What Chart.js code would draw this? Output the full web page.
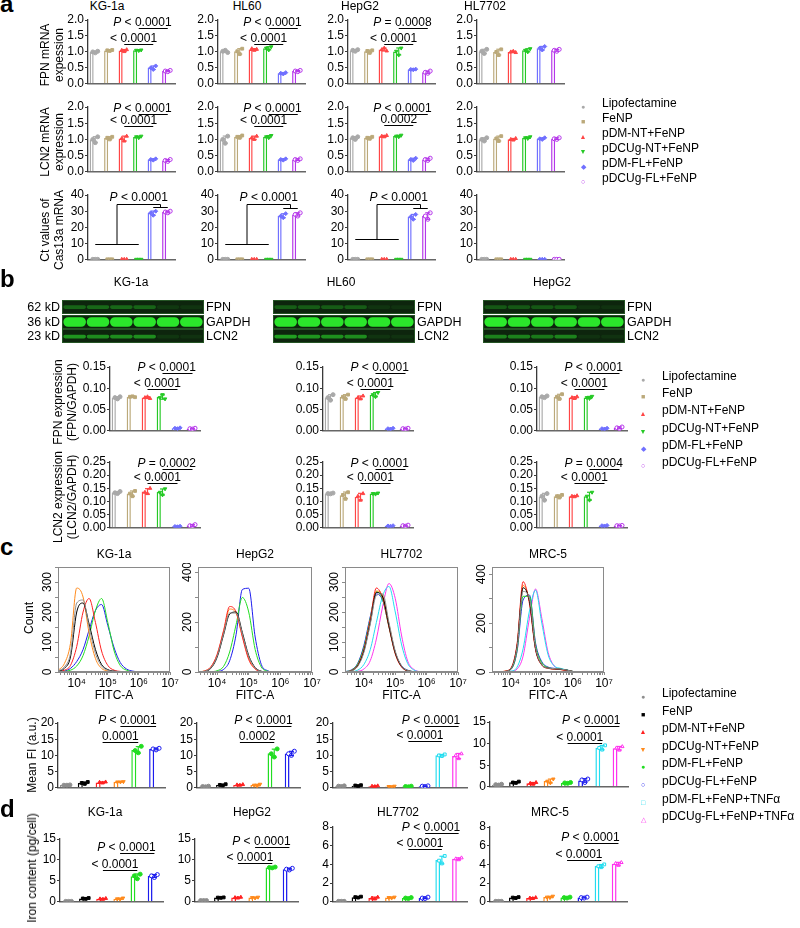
<!DOCTYPE html>
<html>
<head>
<meta charset="utf-8">
<script src="https://cdn.jsdelivr.net/npm/chart.js@4.4.1/dist/chart.umd.min.js"></script>
<style>
  body { margin: 0; background: #fff; }
  #fig { position: relative; width: 800px; height: 928px; overflow: hidden; font-family: "Liberation Sans", Arial, sans-serif; color: #000; }
  #fig canvas { position: absolute; }
  .t { position: absolute; white-space: nowrap; font-size: 12px; line-height: 1; }
  .letter { font-size: 24px; font-weight: bold; }
  .rot { text-align: center; line-height: 1.2; }
  .sym { display: inline-block; width: 10px; text-align: center; font-size: 7px; }
</style>
</head>
<body>
<div id="fig"></div>
<script>
// ---------- groups ----------
const GROUPS_AB = ["Lipofectamine", "FeNP", "pDM-NT+FeNP", "pDCUg-NT+FeNP", "pDM-FL+FeNP", "pDCUg-FL+FeNP"];
const COLORS_AB = ["#a9a9a9", "#bba97a", "#ff4545", "#25c925", "#7070ff", "#b536ea"];
const GROUPS_CD = ["Lipofectamine", "FeNP", "pDM-NT+FeNP", "pDCUg-NT+FeNP", "pDM-FL+FeNP", "pDCUg-FL+FeNP", "pDM-FL+FeNP+TNF\u03b1", "pDCUg-FL+FeNP+TNF\u03b1"];
const COLORS_CD = ["#8e8e8e", "#000000", "#ff2020", "#ff8a1c", "#22dd22", "#1c1cee", "#22dcef", "#ff33ee"];

// ---------- panel a: mRNA ----------
const A_CELLS = ["KG-1a", "HL60", "HepG2", "HL7702"];
const A_FPN = [
  [[1.00, 0.97, 1.02], [1.05, 1.03, 1.06], [1.05, 1.01, 1.07], [1.05, 1.04, 1.06], [0.50, 0.45, 0.56], [0.40, 0.38, 0.42]],
  [[1.02, 1.05, 0.98], [1.02, 0.93, 1.10], [1.10, 1.05, 1.08], [1.12, 1.06, 1.16], [0.33, 0.31, 0.35], [0.40, 0.38, 0.42]],
  [[1.05, 1.02, 1.07], [1.03, 0.97, 1.05], [1.07, 1.12, 1.03], [1.02, 0.90, 1.12], [0.45, 0.44, 0.46], [0.36, 0.33, 0.40]],
  [[1.02, 0.95, 1.08], [1.00, 0.90, 1.08], [1.00, 1.02, 0.98], [1.05, 1.00, 1.10], [1.12, 1.06, 1.17], [1.05, 1.02, 1.08]],
];
const A_LCN2 = [
  [[1.00, 0.90, 1.08], [1.05, 1.00, 1.08], [1.03, 0.95, 1.10], [1.08, 1.05, 1.10], [0.38, 0.36, 0.40], [0.35, 0.32, 0.38]],
  [[1.00, 0.88, 1.10], [1.08, 1.05, 1.12], [1.05, 1.00, 1.10], [1.08, 1.05, 1.12], [0.38, 0.36, 0.40], [0.38, 0.35, 0.40]],
  [[1.05, 1.00, 1.08], [1.05, 1.02, 1.08], [1.10, 1.08, 1.12], [1.10, 1.08, 1.13], [0.38, 0.35, 0.42], [0.38, 0.35, 0.42]],
  [[1.00, 0.95, 1.05], [1.03, 0.95, 1.10], [1.00, 0.98, 1.03], [1.05, 1.03, 1.08], [1.02, 1.00, 1.05], [1.02, 1.00, 1.05]],
];
const A_CT = [
  [[0.3, 0.3, 0.3], [0.3, 0.3, 0.3], [0.3, 0.3, 0.3], [0.3, 0.3, 0.3], [29.0, 27.5, 30.0], [29.5, 29.0, 30.0]],
  [[0.3, 0.3, 0.3], [0.3, 0.3, 0.3], [0.3, 0.3, 0.3], [0.3, 0.3, 0.3], [27.0, 26.0, 28.5], [28.0, 27.0, 29.0]],
  [[0.3, 0.3, 0.3], [0.3, 0.3, 0.3], [0.3, 0.3, 0.3], [0.3, 0.3, 0.3], [26.5, 25.0, 28.0], [27.0, 25.0, 29.0]],
  [[0.3, 0.3, 0.3], [0.3, 0.3, 0.3], [0.3, 0.3, 0.3], [0.3, 0.3, 0.3], [0.3, 0.3, 0.3], [0.3, 0.3, 0.3]],
];
// significance lines: [from bar, to bar, value, prefix, p value]
const A_FPN_NOTES = [
  [[3, 5, 1.74, "P <", "0.0001"], [2, 4, 1.25, "<", "0.0001"]],
  [[3, 5, 1.74, "P <", "0.0001"], [2, 4, 1.25, "<", "0.0001"]],
  [[3, 5, 1.74, "P =", "0.0008"], [2, 4, 1.25, "<", "0.0001"]],
  [],
];
const A_LCN2_NOTES = [
  [[3, 5, 1.78, "P <", "0.0001"], [2, 4, 1.40, "<", "0.0001"]],
  [[3, 5, 1.78, "P <", "0.0001"], [2, 4, 1.40, "<", "0.0001"]],
  [[3, 5, 1.78, "P <", "0.0001"], [2, 4, 1.45, "", "0.0002"]],
  [],
];
const A_CT_BRACKETS = [
  { group: [0, 3], gy: 10, stem: 1.5, top: 34.3, drop: 4.5, pair: [4, 5], py: 32.6, at: 3, num: "0.0001" },
  { group: [0, 3], gy: 10, stem: 1.5, top: 34.3, drop: 4.5, pair: [4, 5], py: 32.0, at: 3, num: "0.0001" },
  { group: [0, 3], gy: 13, stem: 1.5, top: 34.3, drop: 4.5, pair: [4, 5], py: 32.0, at: 3, num: "0.0001" },
  null,
];

// ---------- panel b: western blot ----------
const B_CELLS = ["KG-1a", "HL60", "HepG2"];
const BLOT_PROTEINS = ["FPN", "GAPDH", "LCN2"];
const BLOT_KD = ["62 kD", "36 kD", "23 kD"];
const BLOT_BANDS = [[0.34, 0.64], [0.1, 0.9], [0.3, 0.6]];
const BLOT_FPN = [[0.30, 0.32, 0.32, 0.30, 0.08, 0.06], [0.27, 0.26, 0.26, 0.26, 0.06, 0.05], [0.24, 0.24, 0.24, 0.24, 0.05, 0.05]];
const BLOT_GAPDH = [[0.95, 0.95, 0.95, 0.95, 0.95, 0.95], [0.95, 0.95, 0.93, 0.95, 0.95, 0.95], [0.97, 0.95, 0.95, 0.95, 0.95, 0.95]];
const BLOT_LCN2 = [[0.55, 0.50, 0.50, 0.50, 0.07, 0.05], [0.60, 0.55, 0.52, 0.50, 0.06, 0.05], [0.45, 0.45, 0.40, 0.45, 0.05, 0.05]];
const B_FPN = [
  [[0.078, 0.075, 0.080], [0.080, 0.081, 0.079], [0.078, 0.080, 0.076], [0.078, 0.085, 0.075], [0.006, 0.005, 0.007], [0.005, 0.004, 0.006]],
  [[0.078, 0.072, 0.085], [0.080, 0.075, 0.085], [0.078, 0.075, 0.082], [0.085, 0.080, 0.090], [0.005, 0.004, 0.006], [0.005, 0.004, 0.006]],
  [[0.080, 0.078, 0.082], [0.080, 0.075, 0.086], [0.078, 0.076, 0.080], [0.078, 0.076, 0.081], [0.005, 0.004, 0.006], [0.007, 0.005, 0.009]],
];
const B_LCN2 = [
  [[0.133, 0.130, 0.138], [0.130, 0.120, 0.140], [0.135, 0.130, 0.150], [0.135, 0.125, 0.148], [0.005, 0.004, 0.006], [0.008, 0.006, 0.012]],
  [[0.130, 0.129, 0.132], [0.125, 0.110, 0.135], [0.120, 0.105, 0.130], [0.130, 0.128, 0.132], [0.007, 0.006, 0.008], [0.008, 0.006, 0.010]],
  [[0.120, 0.105, 0.130], [0.120, 0.115, 0.125], [0.120, 0.118, 0.122], [0.120, 0.105, 0.135], [0.008, 0.007, 0.009], [0.008, 0.007, 0.009]],
];
const B_FPN_NOTES = [
  [[3, 5, 0.135, "P <", "0.0001"], [2, 4, 0.098, "<", "0.0001"]],
  [[3, 5, 0.135, "P <", "0.0001"], [2, 4, 0.098, "<", "0.0001"]],
  [[3, 5, 0.135, "P <", "0.0001"], [2, 4, 0.098, "<", "0.0001"]],
];
const B_LCN2_NOTES = [
  [[3, 5, 0.225, "P =", "0.0002"], [2, 4, 0.169, "<", "0.0001"]],
  [[3, 5, 0.225, "P <", "0.0001"], [2, 4, 0.169, "<", "0.0001"]],
  [[3, 5, 0.225, "P =", "0.0004"], [2, 4, 0.169, "<", "0.0001"]],
];

// ---------- panel c: flow cytometry ----------
const C_CELLS = ["KG-1a", "HepG2", "HL7702", "MRC-5"];
const HIST_X = [2500, 4000, 6300, 10000, 16000, 25000, 40000, 63000, 100000, 160000, 250000, 400000, 630000, 1000000];
const HIST_DECADES = [10000, 100000, 1000000, 10000000];
const HIST_DECADE_LABELS = ["10\u2074", "10\u2075", "10\u2076", "10\u2077"];
const HIST_YTICKS = [[0, 100, 200, 300], [0, 200, 400], [0, 100, 200, 300], [0, 200, 400]];
const C_HIST = [
  [
    [3, 17, 62, 230, 240, 150, 62, 20, 6, 2, 1, 0, 0, 0],
    [2, 12, 50, 200, 230, 160, 75, 25, 8, 3, 1, 0, 0, 0],
    [1, 6, 22, 85, 200, 245, 165, 70, 22, 6, 2, 0, 0, 0],
    [5, 28, 95, 280, 250, 130, 45, 12, 4, 1, 0, 0, 0, 0],
    [0, 2, 6, 20, 55, 120, 205, 245, 165, 70, 22, 6, 1, 0],
    [0, 3, 12, 35, 75, 140, 205, 225, 155, 80, 32, 10, 3, 0],
  ],
  [
    [0, 3, 16, 62, 152, 236, 236, 152, 62, 16, 3, 0, 0, 0],
    [0, 2, 14, 58, 148, 232, 240, 158, 66, 18, 3, 0, 0, 0],
    [0, 4, 20, 70, 165, 262, 240, 140, 50, 12, 2, 0, 0, 0],
    [0, 4, 18, 66, 160, 252, 235, 145, 55, 14, 2, 0, 0, 0],
    [0, 0, 1, 5, 22, 80, 190, 298, 240, 90, 20, 3, 0, 0],
    [0, 0, 0, 2, 10, 45, 150, 330, 335, 140, 30, 5, 0, 0],
  ],
  [
    [0, 4, 18, 65, 160, 255, 260, 165, 70, 20, 5, 1, 0, 0],
    [0, 4, 20, 70, 165, 265, 250, 155, 65, 18, 4, 1, 0, 0],
    [0, 5, 22, 75, 175, 280, 245, 150, 60, 16, 4, 1, 0, 0],
    [0, 4, 20, 72, 170, 270, 255, 160, 66, 18, 4, 1, 0, 0],
    [1, 6, 26, 82, 180, 268, 240, 150, 62, 18, 5, 1, 0, 0],
    [1, 7, 28, 88, 185, 260, 238, 152, 65, 20, 6, 1, 0, 0],
    [0, 1, 6, 25, 75, 165, 255, 285, 200, 90, 28, 6, 1, 0],
    [0, 0, 2, 10, 38, 110, 220, 295, 245, 120, 36, 8, 1, 0],
  ],
  [
    [0, 0, 2, 12, 100, 330, 300, 100, 30, 16, 14, 12, 8, 2],
    [0, 0, 2, 12, 105, 345, 290, 95, 30, 16, 13, 11, 8, 2],
    [0, 0, 3, 15, 115, 370, 280, 90, 28, 15, 12, 10, 6, 2],
    [0, 0, 3, 14, 110, 355, 290, 95, 30, 15, 12, 10, 6, 2],
    [0, 0, 2, 10, 90, 310, 310, 110, 38, 18, 14, 12, 8, 2],
    [0, 0, 2, 10, 85, 295, 315, 118, 42, 20, 15, 12, 8, 2],
    [0, 0, 0, 3, 20, 95, 250, 335, 200, 70, 25, 15, 8, 2],
    [0, 0, 0, 2, 12, 65, 220, 340, 220, 80, 25, 12, 6, 1],
  ],
];
const C_FI = [
  [[0.8, 0.8, 0.9], [1.5, 1.2, 1.8], [1.7, 1.5, 1.8], [1.8, 1.8, 1.9], [11.5, 10.8, 12.8], [12.0, 11.7, 12.2]],
  [[0.4, 0.3, 0.5], [0.9, 0.7, 1.1], [0.9, 0.8, 1.0], [0.8, 0.6, 1.1], [10.5, 9.5, 12.0], [10.5, 10.0, 11.3]],
  [[0.5, 0.4, 0.6], [0.7, 0.5, 0.8], [0.5, 0.4, 0.6], [0.4, 0.3, 0.5], [0.4, 0.3, 0.5], [0.5, 0.4, 0.6], [10.0, 9.8, 10.3], [10.0, 9.0, 10.5]],
  [[0.5, 0.4, 0.6], [1.0, 0.9, 1.2], [0.8, 0.6, 1.0], [1.3, 0.9, 1.8], [0.9, 0.8, 1.0], [1.6, 1.0, 1.8], [9.0, 8.6, 9.6], [9.0, 8.5, 9.3]],
];
const C_FI_NOTES = [
  [[3, 5, 19.1, "P <", "0.0001"], [2, 4, 14.0, "", "0.0001"]],
  [[3, 5, 19.1, "P <", "0.0001"], [2, 4, 14.0, "", "0.0002"]],
  [[5, 7, 19.1, "P <", "0.0001"], [4, 6, 14.5, "<", "0.0001"]],
  [[5, 7, 14.0, "P <", "0.0001"], [4, 6, 10.2, "<", "0.0001"]],
];

// ---------- panel d: iron content ----------
const D_IRON = [
  [[0.1, 0.1, 0.1], [0.8, 0.7, 0.9], [0.7, 0.6, 0.8], [0.7, 0.6, 0.9], [6.2, 5.5, 6.6], [6.2, 5.8, 6.5]],
  [[0.3, 0.3, 0.3], [1.0, 0.95, 1.05], [1.0, 0.9, 1.1], [1.0, 0.9, 1.1], [8.2, 8.1, 8.3], [7.8, 7.6, 8.0]],
  [[0.05, 0.05, 0.05], [0.5, 0.45, 0.55], [0.4, 0.3, 0.5], [0.45, 0.4, 0.5], [0.4, 0.35, 0.45], [0.4, 0.35, 0.5], [4.4, 4.1, 4.9], [4.6, 4.5, 4.7]],
  [[0.05, 0.05, 0.05], [0.45, 0.4, 0.5], [0.4, 0.35, 0.45], [0.5, 0.45, 0.6], [0.45, 0.4, 0.5], [0.45, 0.4, 0.5], [3.8, 3.7, 4.0], [4.1, 3.9, 4.2]],
];
const D_IRON_NOTES = [
  [[3, 5, 11.7, "P <", "0.0001"], [2, 4, 7.7, "<", "0.0001"]],
  [[3, 5, 13.2, "P <", "0.0001"], [2, 4, 9.3, "<", "0.0001"]],
  [[5, 7, 7.4, "P <", "0.0001"], [4, 6, 5.7, "<", "0.0001"]],
  [[5, 7, 6.3, "P <", "0.0001"], [4, 6, 4.5, "<", "0.0001"]],
];

// ---------- style ----------
const FONT = '"Liberation Sans", Arial, sans-serif';
const AXIS = "#3a3a3a";
const FRAME = "#8a8a8a";
const JITTER = [-0.17, 0, 0.17];
const MARKS_AB = [{ style: "circle" }, { style: "rect" }, { style: "triangle" }, { style: "triangle", rot: 180 }, { style: "rectRot" }, { style: "circle", open: true }];
const MARKS_CD = [{ style: "circle" }, { style: "rect" }, { style: "triangle" }, { style: "triangle", rot: 180 }, { style: "circle" }, { style: "circle", open: true }, { style: "rect", open: true }, { style: "triangle", open: true }];
const SYM_AB = ["\u25cf", "\u25a0", "\u25b2", "\u25bc", "\u25c6", "\u25cb"];
const SYM_CD = ["\u25cf", "\u25a0", "\u25b2", "\u25bc", "\u25cf", "\u25cb", "\u25a1", "\u25b3"];

Chart.defaults.font.family = FONT;
Chart.defaults.font.size = 12;
Chart.defaults.color = "#000";
Chart.defaults.animation = false;
Chart.defaults.responsive = false;
Chart.defaults.events = [];
Chart.defaults.plugins.legend.display = false;
Chart.defaults.plugins.tooltip.enabled = false;

const fig = document.getElementById("fig");

function addCanvas(x, y, w, h) {
  const c = document.createElement("canvas");
  c.width = Math.round(w);
  c.height = Math.round(h);
  c.style.left = Math.round(x) + "px";
  c.style.top = Math.round(y) + "px";
  fig.appendChild(c);
  return c;
}

function addText(html, x, y, opts = {}) {
  const d = document.createElement("div");
  d.className = "t" + (opts.cls ? " " + opts.cls : "");
  d.innerHTML = html;
  d.style.left = x + "px";
  d.style.top = y + "px";
  if (opts.size) d.style.fontSize = opts.size + "px";
  if (opts.align === "c") d.style.transform = "translateX(-50%)";
  if (opts.align === "r") d.style.transform = "translateX(-100%)";
  if (opts.rot) d.style.transform = "translate(-50%, -50%) rotate(-90deg)";
  fig.appendChild(d);
  return d;
}

function mean(arr) {
  return arr.reduce((s, v) => s + v, 0) / arr.length;
}

function sd(arr) {
  const m = mean(arr);
  return Math.sqrt(arr.reduce((s, v) => s + (v - m) * (v - m), 0) / (arr.length - 1));
}

function strokeLine(ctx, x1, y1, x2, y2) {
  ctx.beginPath();
  ctx.moveTo(x1, y1);
  ctx.lineTo(x2, y2);
  ctx.stroke();
}

// "P" is italic, the rest upright; text ends at `right`
function drawPrefix(ctx, prefix, right, base) {
  if (!prefix) return;
  const space = ctx.measureText(" ").width;
  const hasP = prefix.startsWith("P");
  const rest = (hasP ? prefix.slice(1) : prefix).trim();
  let x = right - space - ctx.measureText(rest).width;
  ctx.fillText(rest, x, base);
  if (hasP) {
    ctx.font = "italic 12px " + FONT;
    x -= space + ctx.measureText("P").width;
    ctx.fillText("P", x, base);
    ctx.font = "12px " + FONT;
  }
}

function drawNote(ctx, xs, ys, note) {
  const [a, b, value, prefix, num] = note;
  const x1 = xs.getPixelForValue(a);
  const x2 = xs.getPixelForValue(b);
  const y = Math.round(ys.getPixelForValue(value)) + 0.5;
  strokeLine(ctx, x1, y, x2, y);
  const numX = (x1 + x2) / 2 - ctx.measureText(num).width / 2;
  ctx.fillText(num, numX, y - 3);
  drawPrefix(ctx, prefix, numX, y - 3);
}

function drawCtBracket(ctx, xs, ys, br) {
  const X = (v) => xs.getPixelForValue(v);
  const Y = (v) => Math.round(ys.getPixelForValue(v)) + 0.5;
  strokeLine(ctx, X(br.group[0]), Y(br.gy), X(br.group[1]), Y(br.gy));
  strokeLine(ctx, X(br.stem), Y(br.gy), X(br.stem), Y(br.top));
  strokeLine(ctx, X(br.stem), Y(br.top), X(br.drop), Y(br.top));
  strokeLine(ctx, X(br.drop), Y(br.top), X(br.drop), Y(br.py));
  strokeLine(ctx, X(br.pair[0]), Y(br.py), X(br.pair[1]), Y(br.py));
  const label = " < " + br.num;
  ctx.font = "italic 12px " + FONT;
  const pW = ctx.measureText("P").width;
  ctx.font = "12px " + FONT;
  const total = pW + ctx.measureText(label).width;
  const x0 = X(br.at) - total / 2;
  ctx.fillText(label, x0 + pW, Y(br.top) - 4);
  ctx.font = "italic 12px " + FONT;
  ctx.fillText("P", x0, Y(br.top) - 4);
}

function createDecorPlugin(reps, colors, notes, bracket) {
  return {
    id: "decor",
    afterDatasetsDraw(chart) {
      const xs = chart.scales.xp;
      const ys = chart.scales.y;
      const ctx = chart.ctx;
      ctx.save();
      ctx.lineWidth = 1.2;
      reps.forEach((r, i) => {
        const m = mean(r);
        const s = sd(r);
        if (s < 1e-9) return;
        const x = xs.getPixelForValue(i);
        const yHi = ys.getPixelForValue(m + s);
        const yLo = ys.getPixelForValue(Math.max(m - s, 0));
        ctx.strokeStyle = colors[i];
        strokeLine(ctx, x, yHi, x, yLo);
        strokeLine(ctx, x - 2.5, yHi, x + 2.5, yHi);
        strokeLine(ctx, x - 2.5, yLo, x + 2.5, yLo);
      });
      ctx.strokeStyle = "#000";
      ctx.fillStyle = "#000";
      ctx.lineWidth = 1;
      ctx.font = "12px " + FONT;
      ctx.textAlign = "left";
      ctx.textBaseline = "alphabetic";
      (notes || []).forEach((note) => drawNote(ctx, xs, ys, note));
      if (bracket) drawCtBracket(ctx, xs, ys, bracket);
      ctx.restore();
    },
  };
}

function barChart(o) {
  const padL = 34, padR = 18, padT = 18, padB = 3;
  const n = o.reps.length;
  const cv = addCanvas(o.ax - padL, o.yt - padT, o.ar - o.ax + padL + padR, o.yb - o.yt + padT + padB);
  const pointSets = o.reps.map((r, i) => ({
    type: "scatter",
    xAxisID: "xp",
    order: 1,
    data: r.map((v, k) => ({ x: i + JITTER[k], y: v })),
    pointStyle: o.marks[i].style,
    rotation: o.marks[i].rot || 0,
    pointRadius: 2,
    borderWidth: 1,
    borderColor: o.colors[i],
    backgroundColor: o.marks[i].open ? "#fff" : o.colors[i],
  }));

  return new Chart(cv, {
    type: "bar",
    data: {
      labels: o.reps.map((_, i) => String(i)),
      datasets: [
        {
          type: "bar",
          xAxisID: "x",
          order: 2,
          data: o.reps.map(mean),
          backgroundColor: "#ffffff",
          borderColor: o.colors,
          borderWidth: 1.5,
          barPercentage: 0.56,
          categoryPercentage: 1,
        },
        ...pointSets,
      ],
    },
    options: {
      layout: { padding: { top: padT, right: padR, bottom: padB, left: 0 } },
      scales: {
        x: {
          type: "category",
          offset: true,
          grid: { display: false },
          ticks: { display: false },
          border: { color: "#666", width: 1.4 },
          afterFit(s) { s.height = 0; },
        },
        xp: { type: "linear", display: false, offset: false, grid: { offset: false }, min: -0.5, max: n - 0.5 },
        y: {
          min: 0,
          max: o.max,
          ticks: {
            stepSize: o.step,
            autoSkip: false,
            padding: 1,
            callback: (v) => Number(v).toFixed(o.dec),
          },
          grid: { drawOnChartArea: false, tickLength: 3, color: AXIS },
          border: { color: AXIS, width: 1.3 },
          afterFit(s) { s.width = padL; },
        },
      },
    },
    plugins: [createDecorPlugin(o.reps, o.colors, o.notes, o.bracket)],
  });
}

function createFramePlugin(labels) {
  return {
    id: "frame",
    afterDraw(chart) {
      const { ctx, chartArea: a } = chart;
      const ys = chart.scales.y;
      ctx.save();
      ctx.strokeStyle = FRAME;
      ctx.lineWidth = 1;
      ctx.strokeRect(a.left + 0.5, a.top + 0.5, a.right - a.left - 1, a.bottom - a.top - 1);
      ctx.fillStyle = "#000";
      ctx.font = "12px " + FONT;
      ctx.textAlign = "center";
      ctx.textBaseline = "bottom";
      labels.forEach((v) => {
        ctx.save();
        ctx.translate(a.left - 4, ys.getPixelForValue(v));
        ctx.rotate(-Math.PI / 2);
        ctx.fillText(String(v), 0, 0);
        ctx.restore();
      });
      ctx.restore();
    },
  };
}

function histChart(o) {
  const padL = 20, padR = 10, padT = 4, padB = 18;
  const cv = addCanvas(o.l - padL, o.t - padT, o.r - o.l + padL + padR, o.b - o.t + padT + padB);
  const xTicks = [];
  for (let dec = 1000; dec < 1e7; dec *= 10) {
    for (let k = 1; k < 10; k++) {
      const v = dec * k;
      if (v >= 2500) xTicks.push(v);
    }
  }
  xTicks.push(1e7);
  const minor = o.yTicks[1] / 2;
  const yTicks = [];
  for (let v = 0; v <= o.max; v += minor) yTicks.push(v);

  return new Chart(cv, {
    type: "line",
    data: {
      datasets: o.curves.map((c, i) => ({
        data: HIST_X.map((x, k) => ({ x, y: c[k] })),
        borderColor: o.colors[i],
        borderWidth: 1,
        pointRadius: 0,
        cubicInterpolationMode: "monotone",
        fill: false,
      })),
    },
    options: {
      layout: { padding: { top: padT, right: padR, bottom: 0, left: 0 } },
      scales: {
        x: {
          type: "logarithmic",
          min: 2500,
          max: 1e7,
          afterBuildTicks(s) { s.ticks = xTicks.map((v) => ({ value: v })); },
          ticks: {
            autoSkip: false,
            maxRotation: 0,
            padding: 1,
            callback: (v) => {
              const idx = HIST_DECADES.indexOf(Number(v));
              return idx >= 0 ? HIST_DECADE_LABELS[idx] : "";
            },
          },
          grid: { drawOnChartArea: false, tickLength: 3, color: FRAME },
          border: { color: FRAME },
          afterFit(s) { s.height = padB; },
        },
        y: {
          min: 0,
          max: o.max,
          afterBuildTicks(s) { s.ticks = yTicks.map((v) => ({ value: v })); },
          ticks: { display: false },
          grid: { drawOnChartArea: false, tickLength: 3, color: FRAME },
          border: { color: FRAME },
          afterFit(s) { s.width = padL; },
        },
      },
    },
    plugins: [createFramePlugin(o.yTicks)],
  });
}

function bandColor(v) {
  const r = Math.round(14 + (45 - 14) * v);
  const g = Math.round(40 + (240 - 40) * v);
  const b = Math.round(14 + (45 - 14) * v);
  return `rgb(${r},${g},${b})`;
}

function blotStrip(x, y, w, h, intensities, band) {
  const cv = addCanvas(x, y, w, h);
  cv.style.background = "#0d250d";
  cv.style.outline = "1px solid #245424";
  return new Chart(cv, {
    type: "bar",
    data: {
      labels: intensities.map((_, i) => String(i)),
      datasets: [{
        data: intensities.map(() => band),
        backgroundColor: intensities.map(bandColor),
        barPercentage: 0.97,
        categoryPercentage: 1,
        borderRadius: 5,
        borderSkipped: false,
      }],
    },
    options: {
      layout: { padding: 0 },
      scales: { x: { display: false }, y: { display: false, min: 0, max: 1 } },
    },
  });
}

function laneMarks(x, y, w) {
  const cv = addCanvas(x, y, w, 8);
  return new Chart(cv, {
    type: "scatter",
    data: {
      datasets: MARKS_AB.map((m, i) => ({
        data: [{ x: i, y: 0 }],
        pointStyle: m.style,
        rotation: m.rot || 0,
        pointRadius: 1.9,
        borderWidth: 1,
        borderColor: COLORS_AB[i],
        backgroundColor: m.open ? "#fff" : COLORS_AB[i],
      })),
    },
    options: {
      layout: { padding: 0 },
      scales: { x: { display: false, min: -0.5, max: 5.5 }, y: { display: false, min: -1, max: 1 } },
    },
  });
}

function legend(names, colors, symbols, xSym, xText, y0, step) {
  names.forEach((name, i) => {
    const y = y0 + i * step - 6;
    addText(`<span class="sym" style="color:${colors[i]}">${symbols[i]}</span>`, xSym - 5, y + 2);
    addText(name, xText, y);
  });
}

// ================= panel a =================
addText("a", 0, -8, { cls: "letter" });
const A_AX = [88, 218, 348, 477];
const A_TITLE_X = [107, 247, 360, 485];
A_CELLS.forEach((cell, c) => {
  addText(cell, A_TITLE_X[c], 0, { align: "c" });
  const base = { ax: A_AX[c], ar: A_AX[c] + 87, colors: COLORS_AB, marks: MARKS_AB };
  barChart({ ...base, yt: 20, yb: 89, max: 2, step: 0.5, dec: 1, reps: A_FPN[c], notes: A_FPN_NOTES[c] });
  barChart({ ...base, yt: 107, yb: 177, max: 2, step: 0.5, dec: 1, reps: A_LCN2[c], notes: A_LCN2_NOTES[c] });
  barChart({ ...base, yt: 195, yb: 265, max: 40, step: 10, dec: 0, reps: A_CT[c], bracket: A_CT_BRACKETS[c] });
});
addText("FPN mRNA<br>expession", 52, 55, { cls: "rot", rot: true });
addText("LCN2 mRNA<br>expression", 52, 142, { cls: "rot", rot: true });
addText("Ct values of<br>Cas13a mRNA", 52, 230, { cls: "rot", rot: true });
legend(GROUPS_AB, COLORS_AB, SYM_AB, 583, 602, 103, 15);

// ================= panel b =================
addText("b", 0, 267, { cls: "letter" });
const BLOT_LEFT = [63, 274, 484];
const BLOT_W = 140;
const BLOT_Y = [301, 316, 330];
const BLOT_INT = [BLOT_FPN, BLOT_GAPDH, BLOT_LCN2];
const B_TITLE_X = [131, 341, 552];
B_CELLS.forEach((cell, c) => {
  addText(cell, B_TITLE_X[c], 276, { align: "c" });
  laneMarks(BLOT_LEFT[c], 291, BLOT_W);
  BLOT_PROTEINS.forEach((prot, p) => {
    blotStrip(BLOT_LEFT[c], BLOT_Y[p], BLOT_W, 12, BLOT_INT[p][c], BLOT_BANDS[p]);
    addText(prot, BLOT_LEFT[c] + BLOT_W + 3, BLOT_Y[p], { size: 12.5 });
    if (c === 0) addText(BLOT_KD[p], 60, BLOT_Y[p], { align: "r", size: 12.5 });
  });
});
const B_AX = [110, 323, 537];
B_CELLS.forEach((cell, c) => {
  const base = { ax: B_AX[c], ar: B_AX[c] + 90, colors: COLORS_AB, marks: MARKS_AB, dec: 2, step: 0.05 };
  barChart({ ...base, yt: 367, yb: 436, max: 0.15, reps: B_FPN[c], notes: B_FPN_NOTES[c] });
  barChart({ ...base, yt: 462, yb: 533, max: 0.25, reps: B_LCN2[c], notes: B_LCN2_NOTES[c] });
});
addText("FPN expression<br>(FPN/GAPDH)", 65, 402, { cls: "rot", rot: true });
addText("LCN2 expression<br>(LCN2/GAPDH)", 65, 497, { cls: "rot", rot: true });
legend(GROUPS_AB, COLORS_AB, SYM_AB, 643, 662, 376, 17.2);

// ================= panel c =================
addText("c", 0, 535, { cls: "letter" });
const C_BOX = [[58, 170, 350], [198, 312, 420], [345, 458, 350], [492, 604, 430]];
C_CELLS.forEach((cell, c) => {
  const [l, r, max] = C_BOX[c];
  addText(cell, (l + r) / 2, 548, { align: "c" });
  histChart({ l, r, t: 567, b: 672, max, yTicks: HIST_YTICKS[c], curves: C_HIST[c], colors: COLORS_CD });
  addText("FITC-A", (l + r) / 2, 689, { align: "c" });
});
addText("Count", 29, 618, { rot: true });
const C_BAR = [[58, 165, 20, 723, 793], [197, 300, 20, 723, 793], [333, 467, 20, 723, 793], [490, 628, 15, 722, 792]];
C_BAR.forEach(([ax, ar, max, yt, yb], c) => {
  barChart({ ax, ar, yt, yb, max, step: 5, dec: 0, reps: C_FI[c], notes: C_FI_NOTES[c], colors: COLORS_CD, marks: MARKS_CD });
});
addText("Mean FI (a.u.)", 32, 755, { rot: true });
legend(GROUPS_CD, COLORS_CD, SYM_CD, 643, 662, 693, 17.6);

// ================= panel d =================
addText("d", 0, 797, { cls: "letter" });
const D_TITLE_X = [105, 252, 398, 550];
const D_BAR = [[60, 163, 15, 5, 839], [195, 298, 15, 5, 839], [333, 467, 8, 2, 827], [490, 627, 8, 2, 827]];
D_BAR.forEach(([ax, ar, max, step, yt], c) => {
  addText(C_CELLS[c], D_TITLE_X[c], 806, { align: "c" });
  barChart({ ax, ar, yt, yb: 907, max, step, dec: 0, reps: D_IRON[c], notes: D_IRON_NOTES[c], colors: COLORS_CD, marks: MARKS_CD });
});
addText("Iron content (pg/cell)", 32, 868, { rot: true });
</script>
</body>
</html>
